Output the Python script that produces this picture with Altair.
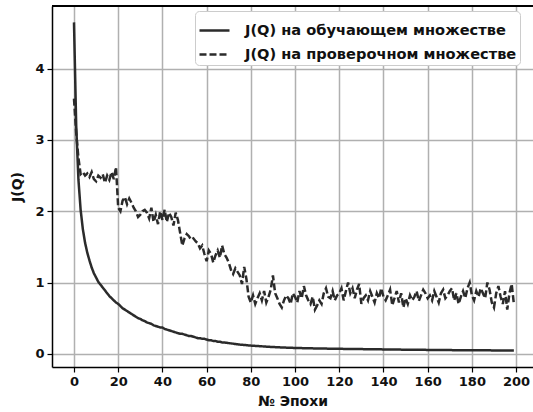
import altair as alt
import pandas as pd

train_epochs = list(range(0, 71)) + [75, 80, 85, 90, 95, 100, 110, 120, 130, 140, 150, 160, 170, 180, 190, 199]
train_loss = [
    4.65, 3.20, 2.45, 2.02, 1.75, 1.56, 1.42, 1.31, 1.21, 1.13,
    1.07, 1.01, 0.97, 0.93, 0.89, 0.85, 0.81, 0.78, 0.75, 0.72,
    0.70, 0.67, 0.64, 0.62, 0.60, 0.58, 0.56, 0.54, 0.52, 0.50,
    0.49, 0.47, 0.46, 0.44, 0.43, 0.42, 0.40, 0.39, 0.38, 0.37,
    0.37, 0.35, 0.34, 0.33, 0.32, 0.31, 0.30, 0.29, 0.28, 0.28,
    0.27, 0.26, 0.25, 0.25, 0.24, 0.23, 0.22, 0.22, 0.21, 0.21,
    0.20, 0.19, 0.19, 0.18, 0.18, 0.17, 0.17, 0.16, 0.16, 0.155,
    0.15,
    0.13, 0.115, 0.105, 0.095, 0.088, 0.082, 0.075, 0.07, 0.066, 0.062,
    0.058, 0.055, 0.052, 0.05, 0.048, 0.046,
]

val_epochs = list(range(0, 200))
val_loss = [
    3.58, 3.10, 2.75, 2.52, 2.55, 2.50, 2.53, 2.48, 2.55, 2.45,
    2.42, 2.50, 2.47, 2.52, 2.40, 2.50, 2.44, 2.55, 2.45, 2.62,
    2.05, 2.00, 2.15, 2.20, 2.10, 2.18, 2.12, 2.05, 2.00, 1.92,
    1.95, 2.00, 2.02, 1.98, 1.90, 2.05, 1.85, 1.95, 1.82, 2.00,
    1.88, 2.02, 1.85, 1.98, 1.92, 1.80, 1.98, 1.88, 1.70, 1.52,
    1.62, 1.68, 1.65, 1.60, 1.62, 1.58, 1.55, 1.48, 1.52, 1.40,
    1.30, 1.45, 1.40, 1.28, 1.38, 1.45, 1.35, 1.52, 1.40, 1.35,
    1.28, 1.18, 1.12, 1.20, 1.15, 1.10, 0.98, 1.22, 1.05, 0.80,
    0.72, 0.82, 0.70, 0.78, 0.85, 0.75, 0.88, 0.72, 0.80, 0.90,
    1.10, 0.85, 0.78, 0.70, 0.65, 0.75, 0.82, 0.78, 0.70, 0.85,
    0.80, 0.72, 0.88, 0.78, 0.95, 0.82, 0.75, 0.70, 0.80, 0.62,
    0.68, 0.75, 0.70, 0.85, 0.92, 0.80, 0.78, 0.88, 0.75, 0.82,
    0.85, 0.92, 0.75, 0.88, 1.00, 0.85, 0.92, 0.78, 0.90, 0.98,
    0.70, 0.78, 0.82, 0.75, 0.88, 0.80, 0.72, 0.85, 0.78, 0.92,
    0.80, 0.75, 0.82, 0.90, 0.68, 0.78, 0.88, 0.72, 0.85, 0.65,
    0.78, 0.70, 0.82, 0.75, 0.80, 0.88, 0.74, 0.82, 0.90, 0.85,
    0.78, 0.82, 0.75, 0.88, 0.80, 0.72, 0.85, 0.90, 0.78, 0.82,
    0.88, 0.92, 0.75, 0.85, 0.70, 0.80, 0.88, 0.78, 0.92, 1.00,
    0.82, 0.75, 0.88, 0.80, 0.92, 0.85, 0.78, 1.00, 0.90, 0.72,
    0.65, 0.85, 0.95, 0.80, 0.70, 0.88, 0.62, 0.85, 0.98, 0.70,
]

series_names = ["J(Q) на обучающем множестве", "J(Q) на проверочном множестве"]
x_ticks = [0, 20, 40, 60, 80, 100, 120, 140, 160, 180, 200]
y_ticks = [0, 1, 2, 3, 4]

df = pd.concat([
    pd.DataFrame({"epoch": train_epochs, "loss": train_loss, "series": series_names[0]}),
    pd.DataFrame({"epoch": val_epochs, "loss": val_loss, "series": series_names[1]}),
])

FONT = "DejaVu Sans"
W, H = 481, 361

lines = alt.Chart(df).mark_line(strokeWidth=2.5, clip=True).encode(
    x=alt.X("epoch:Q",
            scale=alt.Scale(domain=[-9.95, 207.65], nice=False, zero=False),
            axis=alt.Axis(values=x_ticks, format="d", title="№ Эпохи", titlePadding=6)),
    y=alt.Y("loss:Q",
            scale=alt.Scale(domain=[-0.185, 4.88], nice=False, zero=False),
            axis=alt.Axis(values=y_ticks, format="d", title="J(Q)", titlePadding=10)),
    color=alt.Color("series:N",
                    scale=alt.Scale(domain=series_names, range=["#2b2b2b", "#2b2b2b"]),
                    legend=alt.Legend(title=None, orient="none", legendX=143, legendY=5,
                                      symbolType="stroke", symbolSize=900,
                                      symbolStrokeWidth=2.5, labelFont=FONT,
                                      labelFontSize=14.6, labelFontWeight="bold",
                                      labelColor="#111111", labelOffset=14, labelLimit=500,
                                      rowPadding=-5, padding=3, cornerRadius=4,
                                      strokeColor="#cccccc", fillColor="white")),
    strokeDash=alt.StrokeDash("series:N",
                              scale=alt.Scale(domain=series_names, range=[[1, 0], [7, 3]]),
                              legend=None),
)

top_border = alt.Chart(df).mark_rule(color="black", strokeWidth=1.5).encode(
    x=alt.value(0), x2=alt.value(W), y=alt.value(0)
)

chart = alt.layer(lines, top_border).properties(
    width=W, height=H,
    autosize=alt.AutoSizeParams(type="none"),
    padding={"left": 52, "top": 6, "right": 0, "bottom": 45},
    background="white",
).configure_view(stroke=None).configure_axis(
    labelFont=FONT, labelFontSize=13, labelFontWeight="bold", labelColor="#111111",
    titleFont=FONT, titleFontSize=14, titleFontWeight="bold", titleColor="#111111",
    gridColor="#b0b0b0", gridWidth=1.5, domainColor="black", domainWidth=1.5,
    tickColor="black", tickSize=5, tickWidth=1.2, labelPadding=3,
)

chart.save("out.html", embed_options={"renderer": "svg", "actions": False})
